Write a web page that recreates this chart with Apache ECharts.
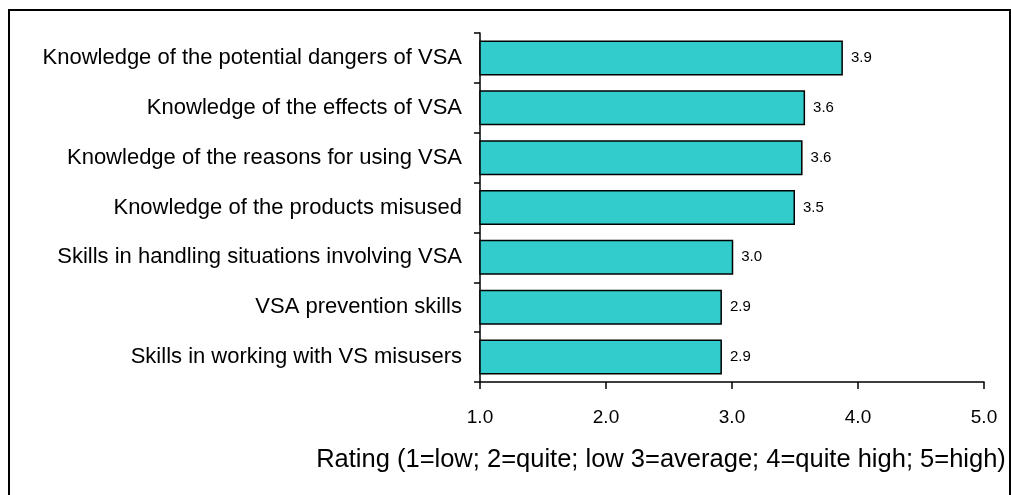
<!DOCTYPE html>
<html>
<head>
<meta charset="utf-8">
<script src="https://cdn.jsdelivr.net/npm/echarts@6/dist/echarts.min.js"></script>
<style>
  html, body { margin: 0; padding: 0; background: #fff; }
  #chart { width: 1011px; height: 495px; }
</style>
</head>
<body>
<div id="chart"></div>
<script>
// categories listed bottom to top (ECharts category y axis starts at the bottom)
const categories = [
    'Skills in working with VS misusers',
    'VSA prevention skills',
    'Skills in handling situations involving VSA',
    'Knowledge of the products misused',
    'Knowledge of the reasons for using VSA',
    'Knowledge of the effects of VSA',
    'Knowledge of the potential dangers of VSA'
];
const ratings = [2.92, 2.92, 3.01, 3.50, 3.56, 3.58, 3.88];
const xTicks = [1, 2, 3, 4, 5];
const axisTitle = 'Rating (1=low; 2=quite; low 3=average; 4=quite high; 5=high)';

const chart = echarts.init(document.getElementById('chart'));
const fontFam = '"Liberation Sans", Arial, sans-serif';

const option = {
    animation: false,
    textStyle: { fontFamily: fontFam },
    // outer frame round the whole chart
    graphic: [{
        type: 'rect',
        shape: { x: 9, y: 10, width: 1001, height: 500 },
        style: { fill: 'none', stroke: '#000', lineWidth: 2 },
        silent: true
    }],
    grid: { left: 480, right: 27, top: 33, bottom: 113 },
    xAxis: {
        type: 'value',
        min: xTicks[0],
        max: xTicks[xTicks.length - 1],
        interval: 1,
        name: axisTitle,
        nameLocation: 'middle',
        nameGap: 65,
        nameTextStyle: { fontSize: 25.5, color: '#000', fontFamily: fontFam, padding: [0, 0, 0, -142] },
        axisLine: { show: true, lineStyle: { color: '#000', width: 1.5 } },
        axisTick: { show: true, length: 7, lineStyle: { color: '#000', width: 1.5 } },
        axisLabel: {
            color: '#000', fontSize: 19, margin: 26, fontFamily: fontFam,
            formatter: v => v.toFixed(1)
        },
        splitLine: { show: false }
    },
    yAxis: {
        type: 'category',
        data: categories,
        axisLine: { show: true, lineStyle: { color: '#000', width: 1.5 } },
        axisTick: { show: true, length: 6, lineStyle: { color: '#000', width: 1.5 } },
        axisLabel: { color: '#000', fontSize: 22, margin: 18, fontFamily: fontFam }
    },
    series: [{
        type: 'bar',
        data: ratings,
        barWidth: 35,
        itemStyle: { color: '#33CCCC', borderColor: '#000', borderWidth: 1.5 },
        label: {
            show: true,
            position: 'right',
            distance: 8,
            color: '#000',
            fontSize: 15,
            fontFamily: fontFam,
            formatter: p => p.value.toFixed(1)
        }
    }]
};
chart.setOption(option);
</script>
</body>
</html>
